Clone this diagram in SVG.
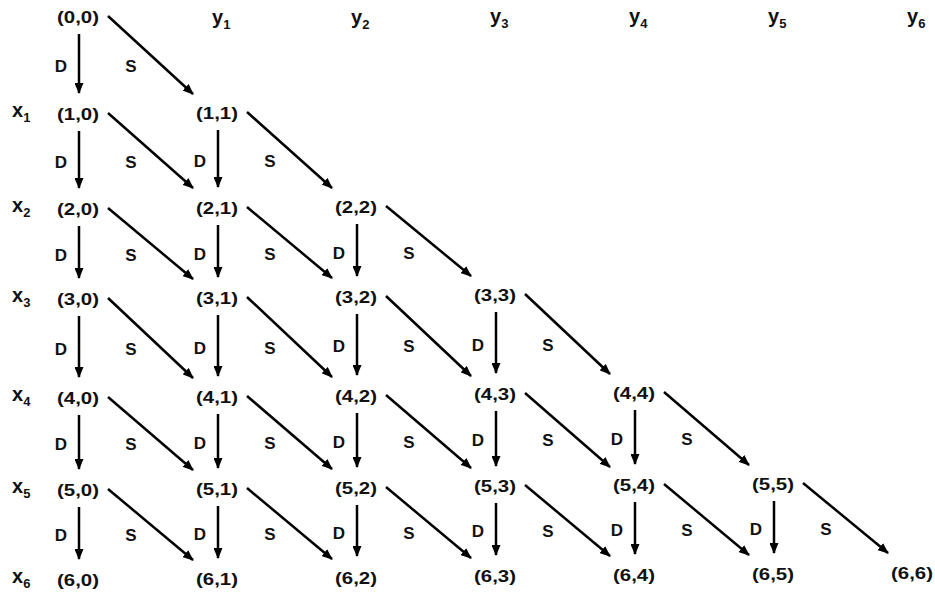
<svg xmlns="http://www.w3.org/2000/svg" width="935" height="596" viewBox="0 0 935 596">
<style>
.n{font-family:"Liberation Sans",Arial,sans-serif;font-size:16.5px;font-weight:bold;fill:#111;text-anchor:middle}
.l{font-family:"Liberation Sans",Arial,sans-serif;font-size:17px;font-weight:bold;fill:#111;text-anchor:middle}
.a{font-family:"Liberation Sans",Arial,sans-serif;font-size:20px;font-weight:bold;fill:#111}
.a tspan{font-size:13px}
.c line{stroke:#000;stroke-width:2.5;marker-end:url(#ah)}
</style>
<defs>
<marker id="ah" markerUnits="userSpaceOnUse" markerWidth="11" markerHeight="9" refX="10" refY="4.5" orient="auto">
<path d="M0,0 L11,4.5 L0,9 z" fill="#000"/>
</marker>
</defs>
<rect width="935" height="596" fill="#fff"/>
<g id="axis-labels">
<text class="a" x="212" y="24">y<tspan dy="5">1</tspan></text>
<text class="a" x="351" y="24">y<tspan dy="5">2</tspan></text>
<text class="a" x="490" y="23">y<tspan dy="5">3</tspan></text>
<text class="a" x="629" y="23">y<tspan dy="5">4</tspan></text>
<text class="a" x="768" y="23">y<tspan dy="5">5</tspan></text>
<text class="a" x="907" y="23">y<tspan dy="5">6</tspan></text>
<text class="a" x="12" y="117">x<tspan dy="5">1</tspan></text>
<text class="a" x="12" y="212">x<tspan dy="5">2</tspan></text>
<text class="a" x="12" y="302">x<tspan dy="5">3</tspan></text>
<text class="a" x="12" y="401">x<tspan dy="5">4</tspan></text>
<text class="a" x="12" y="493">x<tspan dy="5">5</tspan></text>
<text class="a" x="12" y="583">x<tspan dy="5">6</tspan></text>
</g>
<g id="connectors" class="c">
<line x1="79" y1="34" x2="79" y2="93"/>
<line x1="108" y1="16" x2="193" y2="94"/>
<line x1="79" y1="131" x2="79" y2="188"/>
<line x1="108" y1="113" x2="193" y2="188"/>
<line x1="218" y1="130" x2="218" y2="187"/>
<line x1="247" y1="112" x2="332" y2="188"/>
<line x1="79" y1="226" x2="79" y2="278"/>
<line x1="108" y1="208" x2="193" y2="279"/>
<line x1="218" y1="225" x2="218" y2="277"/>
<line x1="247" y1="207" x2="332" y2="278"/>
<line x1="357" y1="224" x2="357" y2="276"/>
<line x1="386" y1="206" x2="471" y2="276"/>
<line x1="79" y1="316" x2="79" y2="377"/>
<line x1="108" y1="298" x2="193" y2="378"/>
<line x1="218" y1="315" x2="218" y2="376"/>
<line x1="247" y1="297" x2="332" y2="377"/>
<line x1="357" y1="314" x2="357" y2="375"/>
<line x1="386" y1="296" x2="471" y2="376"/>
<line x1="496" y1="312" x2="496" y2="373"/>
<line x1="525" y1="294" x2="610" y2="374"/>
<line x1="79" y1="415" x2="79" y2="469"/>
<line x1="108" y1="397" x2="193" y2="470"/>
<line x1="218" y1="414" x2="218" y2="468"/>
<line x1="247" y1="396" x2="332" y2="469"/>
<line x1="357" y1="413" x2="357" y2="467"/>
<line x1="386" y1="395" x2="471" y2="468"/>
<line x1="496" y1="411" x2="496" y2="466"/>
<line x1="525" y1="393" x2="610" y2="467"/>
<line x1="635" y1="410" x2="635" y2="464"/>
<line x1="664" y1="392" x2="749" y2="465"/>
<line x1="79" y1="507" x2="79" y2="559"/>
<line x1="108" y1="489" x2="193" y2="560"/>
<line x1="218" y1="506" x2="218" y2="558"/>
<line x1="247" y1="488" x2="332" y2="559"/>
<line x1="357" y1="505" x2="357" y2="556"/>
<line x1="386" y1="487" x2="471" y2="558"/>
<line x1="496" y1="503" x2="496" y2="555"/>
<line x1="525" y1="485" x2="610" y2="556"/>
<line x1="635" y1="502" x2="635" y2="554"/>
<line x1="664" y1="484" x2="749" y2="555"/>
<line x1="774" y1="501" x2="774" y2="553"/>
<line x1="803" y1="483" x2="888" y2="553"/>
</g>
<g id="edge-labels">
<text class="l" x="61" y="72">D</text><text class="l" x="131" y="72">S</text>
<text class="l" x="61" y="168">D</text><text class="l" x="131" y="168">S</text>
<text class="l" x="200" y="167">D</text><text class="l" x="270" y="167">S</text>
<text class="l" x="61" y="261">D</text><text class="l" x="131" y="261">S</text>
<text class="l" x="200" y="260">D</text><text class="l" x="270" y="260">S</text>
<text class="l" x="339" y="259">D</text><text class="l" x="409" y="259">S</text>
<text class="l" x="61" y="355">D</text><text class="l" x="131" y="355">S</text>
<text class="l" x="200" y="354">D</text><text class="l" x="270" y="354">S</text>
<text class="l" x="339" y="352">D</text><text class="l" x="409" y="352">S</text>
<text class="l" x="478" y="351">D</text><text class="l" x="548" y="351">S</text>
<text class="l" x="61" y="450">D</text><text class="l" x="131" y="450">S</text>
<text class="l" x="200" y="449">D</text><text class="l" x="270" y="449">S</text>
<text class="l" x="339" y="448">D</text><text class="l" x="409" y="448">S</text>
<text class="l" x="478" y="446">D</text><text class="l" x="548" y="446">S</text>
<text class="l" x="617" y="445">D</text><text class="l" x="687" y="445">S</text>
<text class="l" x="61" y="541">D</text><text class="l" x="131" y="541">S</text>
<text class="l" x="200" y="540">D</text><text class="l" x="270" y="540">S</text>
<text class="l" x="339" y="539">D</text><text class="l" x="409" y="539">S</text>
<text class="l" x="478" y="537">D</text><text class="l" x="548" y="537">S</text>
<text class="l" x="617" y="536">D</text><text class="l" x="687" y="536">S</text>
<text class="l" x="756" y="535">D</text><text class="l" x="826" y="535">S</text>
</g>
<g id="n00"><text class="n" x="78" y="23" textLength="42" lengthAdjust="spacingAndGlyphs">(0,0)</text></g>
<g id="n10"><text class="n" x="78" y="120" textLength="42" lengthAdjust="spacingAndGlyphs">(1,0)</text></g>
<g id="n11"><text class="n" x="217" y="119" textLength="42" lengthAdjust="spacingAndGlyphs">(1,1)</text></g>
<g id="n20"><text class="n" x="78" y="215" textLength="42" lengthAdjust="spacingAndGlyphs">(2,0)</text></g>
<g id="n21"><text class="n" x="217" y="214" textLength="42" lengthAdjust="spacingAndGlyphs">(2,1)</text></g>
<g id="n22"><text class="n" x="356" y="213" textLength="42" lengthAdjust="spacingAndGlyphs">(2,2)</text></g>
<g id="n30"><text class="n" x="78" y="305" textLength="42" lengthAdjust="spacingAndGlyphs">(3,0)</text></g>
<g id="n31"><text class="n" x="217" y="304" textLength="42" lengthAdjust="spacingAndGlyphs">(3,1)</text></g>
<g id="n32"><text class="n" x="356" y="303" textLength="42" lengthAdjust="spacingAndGlyphs">(3,2)</text></g>
<g id="n33"><text class="n" x="495" y="301" textLength="42" lengthAdjust="spacingAndGlyphs">(3,3)</text></g>
<g id="n40"><text class="n" x="78" y="404" textLength="42" lengthAdjust="spacingAndGlyphs">(4,0)</text></g>
<g id="n41"><text class="n" x="217" y="403" textLength="42" lengthAdjust="spacingAndGlyphs">(4,1)</text></g>
<g id="n42"><text class="n" x="356" y="402" textLength="42" lengthAdjust="spacingAndGlyphs">(4,2)</text></g>
<g id="n43"><text class="n" x="495" y="400" textLength="42" lengthAdjust="spacingAndGlyphs">(4,3)</text></g>
<g id="n44"><text class="n" x="634" y="399" textLength="42" lengthAdjust="spacingAndGlyphs">(4,4)</text></g>
<g id="n50"><text class="n" x="78" y="496" textLength="42" lengthAdjust="spacingAndGlyphs">(5,0)</text></g>
<g id="n51"><text class="n" x="217" y="495" textLength="42" lengthAdjust="spacingAndGlyphs">(5,1)</text></g>
<g id="n52"><text class="n" x="356" y="494" textLength="42" lengthAdjust="spacingAndGlyphs">(5,2)</text></g>
<g id="n53"><text class="n" x="495" y="492" textLength="42" lengthAdjust="spacingAndGlyphs">(5,3)</text></g>
<g id="n54"><text class="n" x="634" y="491" textLength="42" lengthAdjust="spacingAndGlyphs">(5,4)</text></g>
<g id="n55"><text class="n" x="773" y="490" textLength="42" lengthAdjust="spacingAndGlyphs">(5,5)</text></g>
<g id="n60"><text class="n" x="78" y="586" textLength="42" lengthAdjust="spacingAndGlyphs">(6,0)</text></g>
<g id="n61"><text class="n" x="217" y="585" textLength="42" lengthAdjust="spacingAndGlyphs">(6,1)</text></g>
<g id="n62"><text class="n" x="356" y="584" textLength="42" lengthAdjust="spacingAndGlyphs">(6,2)</text></g>
<g id="n63"><text class="n" x="495" y="582" textLength="42" lengthAdjust="spacingAndGlyphs">(6,3)</text></g>
<g id="n64"><text class="n" x="634" y="581" textLength="42" lengthAdjust="spacingAndGlyphs">(6,4)</text></g>
<g id="n65"><text class="n" x="773" y="580" textLength="42" lengthAdjust="spacingAndGlyphs">(6,5)</text></g>
<g id="n66"><text class="n" x="912" y="579" textLength="42" lengthAdjust="spacingAndGlyphs">(6,6)</text></g>
</svg>
